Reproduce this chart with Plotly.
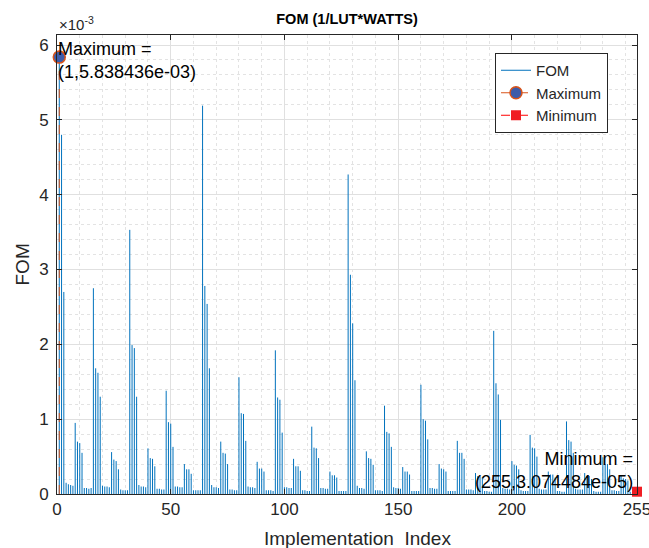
import plotly.graph_objects as go

title_text = "<b>FOM (1/LUT*WATTS)</b>"
x_label = "Implementation\u00a0 Index"
y_label = "FOM"
x_ticks = [0, 50, 100, 150, 200, 255]
y_ticks = [0, 1, 2, 3, 4, 5, 6]
y_tick_text = ["0", "1", "2", "3", "4", "5", "6"]

# FOM values (units of 1e-3) for implementation index 1..255
fom_e3 = [
    5.838436, 4.80, 2.70, 0.15, 0.13, 0.12, 0.11,            # 1-7
    0.95, 0.70, 0.68, 0.55, 0.08, 0.08, 0.07, 0.08,          # 8-15
    2.75, 1.68, 1.62, 1.30, 0.11, 0.10, 0.10, 0.09,          # 16-23
    0.56, 0.46, 0.44, 0.33, 0.06, 0.05, 0.05, 0.05,          # 24-31
    3.53, 1.99, 1.95, 1.30, 0.12, 0.10, 0.10, 0.09,          # 32-39
    0.61, 0.48, 0.47, 0.37, 0.07, 0.07, 0.06, 0.06,          # 40-47
    1.38, 0.96, 0.94, 0.63, 0.10, 0.10, 0.09, 0.09,          # 48-55
    0.40, 0.33, 0.33, 0.27, 0.05, 0.05, 0.05, 0.05,          # 56-63
    5.19, 2.78, 2.54, 1.68, 0.12, 0.09, 0.09, 0.08,          # 64-71
    0.70, 0.55, 0.54, 0.40, 0.06, 0.06, 0.05, 0.05,          # 72-79
    1.56, 1.08, 1.07, 0.71, 0.10, 0.09, 0.09, 0.08,          # 80-87
    0.43, 0.34, 0.34, 0.30, 0.05, 0.05, 0.05, 0.04,          # 88-95
    1.92, 1.29, 1.26, 0.82, 0.09, 0.09, 0.08, 0.08,          # 96-103
    0.47, 0.37, 0.37, 0.31, 0.05, 0.05, 0.04, 0.04,          # 104-111
    0.90, 0.62, 0.61, 0.48, 0.08, 0.08, 0.07, 0.07,          # 112-119
    0.30, 0.25, 0.25, 0.22, 0.04, 0.04, 0.04, 0.04,          # 120-127
    4.27, 2.93, 2.28, 1.52, 0.11, 0.08, 0.08, 0.07,          # 128-135
    0.57, 0.48, 0.47, 0.39, 0.05, 0.05, 0.05, 0.04,          # 136-143
    1.18, 0.83, 0.81, 0.63, 0.09, 0.08, 0.08, 0.07,          # 144-151
    0.36, 0.30, 0.30, 0.26, 0.04, 0.04, 0.04, 0.04,          # 152-159
    1.46, 1.00, 0.98, 0.73, 0.08, 0.08, 0.07, 0.07,          # 160-167
    0.40, 0.34, 0.33, 0.30, 0.04, 0.04, 0.04, 0.04,          # 168-175
    0.71, 0.55, 0.55, 0.47, 0.06, 0.06, 0.06, 0.05,          # 176-183
    0.28, 0.24, 0.24, 0.22, 0.04, 0.04, 0.03, 0.03,          # 184-191
    2.18, 1.48, 1.33, 0.99, 0.08, 0.07, 0.07, 0.06,          # 192-199
    0.44, 0.39, 0.38, 0.33, 0.05, 0.04, 0.04, 0.04,          # 200-207
    0.79, 0.62, 0.61, 0.50, 0.07, 0.06, 0.06, 0.06,          # 208-215
    0.30, 0.26, 0.26, 0.22, 0.04, 0.04, 0.03, 0.03,          # 216-223
    0.97, 0.72, 0.70, 0.55, 0.07, 0.06, 0.06, 0.06,          # 224-231
    0.28, 0.24, 0.24, 0.20, 0.04, 0.03, 0.03, 0.03,          # 232-239
    0.49, 0.40, 0.40, 0.33, 0.05, 0.05, 0.04, 0.04,          # 240-247
    0.25, 0.21, 0.20, 0.18, 0.03, 0.03, 0.03, 0.03074484,    # 248-255
]
impl_index = list(range(1, len(fom_e3) + 1))

max_index = 1
max_value = 5.838436
min_index = 255
min_value = 0.03074484
max_label = "Maximum =<br>(1,5.838436e-03)"
min_label = "Minimum =<br>(255,3.074484e-05)"

FONT = "Liberation Sans, Arial, Helvetica, sans-serif"
TXT = "#262626"

# stems
sx, sy = [], []
for xi, yi in zip(impl_index, fom_e3):
    sx += [xi, xi, None]
    sy += [0, yi, None]

fig = go.Figure()
fig.add_trace(go.Scatter(x=sx, y=sy, mode="lines", name="FOM",
                         line=dict(color="#0072BD", width=1)))
fig.add_trace(go.Scatter(x=[max_index, max_index], y=[0, max_value], mode="lines",
                         showlegend=False, line=dict(color="#D95319", width=1, dash="dash")))
fig.add_trace(go.Scatter(x=[max_index], y=[max_value], mode="lines+markers", name="Maximum",
                         line=dict(color="#D95319", width=1, dash="dash"),
                         marker=dict(symbol="circle", size=12, color="#3D5BA9",
                                     line=dict(color="#D95319", width=1.5)),
                         cliponaxis=False))
fig.add_trace(go.Scatter(x=[min_index, min_index], y=[0, min_value], mode="lines",
                         showlegend=False, line=dict(color="#FF0000", width=1, dash="dashdot")))
fig.add_trace(go.Scatter(x=[min_index], y=[min_value], mode="lines+markers", name="Minimum",
                         line=dict(color="#FF0000", width=1, dash="dashdot"),
                         marker=dict(symbol="square", size=10, color="#F01E23"),
                         cliponaxis=False))

axis_common = dict(
    showline=True, linecolor=TXT, linewidth=1, mirror="ticks",
    ticks="inside", ticklen=5, tickcolor=TXT, tickwidth=1,
    showgrid=True, gridcolor="#e0e0e0", gridwidth=1,
    zeroline=False, automargin=False, ticklabeloverflow="allow",
    tickfont=dict(family=FONT, size=17, color=TXT),
)

fig.update_layout(
    width=649, height=548,
    margin=dict(l=57, r=12, t=35, b=54, autoexpand=False),
    paper_bgcolor="white", plot_bgcolor="white",
    font=dict(family=FONT, color=TXT),
    title=dict(text=title_text, x=0.5, xref="paper", y=1 - 19 / 548, yref="container",
               xanchor="center", yanchor="middle",
               font=dict(family=FONT, size=14.5, color="black")),
    xaxis=dict(range=[0, 255], tickvals=x_ticks, ticktext=[str(t) for t in x_ticks],
               minor=dict(dtick=10, tick0=0, showgrid=True, gridcolor="#e3e3e3",
                          griddash="dot", ticks=""),
               **axis_common),
    yaxis=dict(range=[0, 6.134], tickvals=y_ticks, ticktext=y_tick_text,
               minor=dict(dtick=0.2, tick0=0, showgrid=True, gridcolor="#e3e3e3",
                          griddash="dot", ticks=""),
               ticklabelstandoff=4,
               **axis_common),
    legend=dict(x=(495 - 57) / 580, y=(494 - 53) / 459, xanchor="left", yanchor="top",
                bgcolor="white", bordercolor=TXT, borderwidth=1,
                font=dict(family=FONT, size=15, color=TXT),
                itemwidth=30, tracegroupgap=0),
    showlegend=True,
)

fig.add_annotation(text="×10<sup>-3</sup>", xref="paper", yref="paper", x=0, y=1,
                   xanchor="left", yanchor="bottom", showarrow=False,
                   font=dict(family=FONT, size=15, color=TXT))
fig.add_annotation(text=y_label, xref="paper", yref="paper", x=(22 - 57) / 580, y=0.5,
                   textangle=-90, showarrow=False, xanchor="center", yanchor="middle",
                   font=dict(family=FONT, size=19, color=TXT))
fig.add_annotation(text=x_label, xref="paper", yref="paper", x=(357 - 57) / 580,
                   y=(494 - 538) / 459, showarrow=False, xanchor="center", yanchor="middle",
                   font=dict(family=FONT, size=19, color=TXT))
fig.add_annotation(text=max_label, x=max_index, y=max_value, xref="x", yref="y",
                   xanchor="left", yanchor="middle", align="left", showarrow=False,
                   xshift=-3, yshift=-3,
                   font=dict(family=FONT, size=18, color="black"))
fig.add_annotation(text=min_label, x=min_index, y=min_value, xref="x", yref="y",
                   xanchor="right", yanchor="bottom", align="right", showarrow=False,
                   xshift=-2, yshift=-2,
                   font=dict(family=FONT, size=18, color="black"))

fig.write_html("out.html", config={"displayModeBar": False},
               post_script="document.body.style.margin='0';")
